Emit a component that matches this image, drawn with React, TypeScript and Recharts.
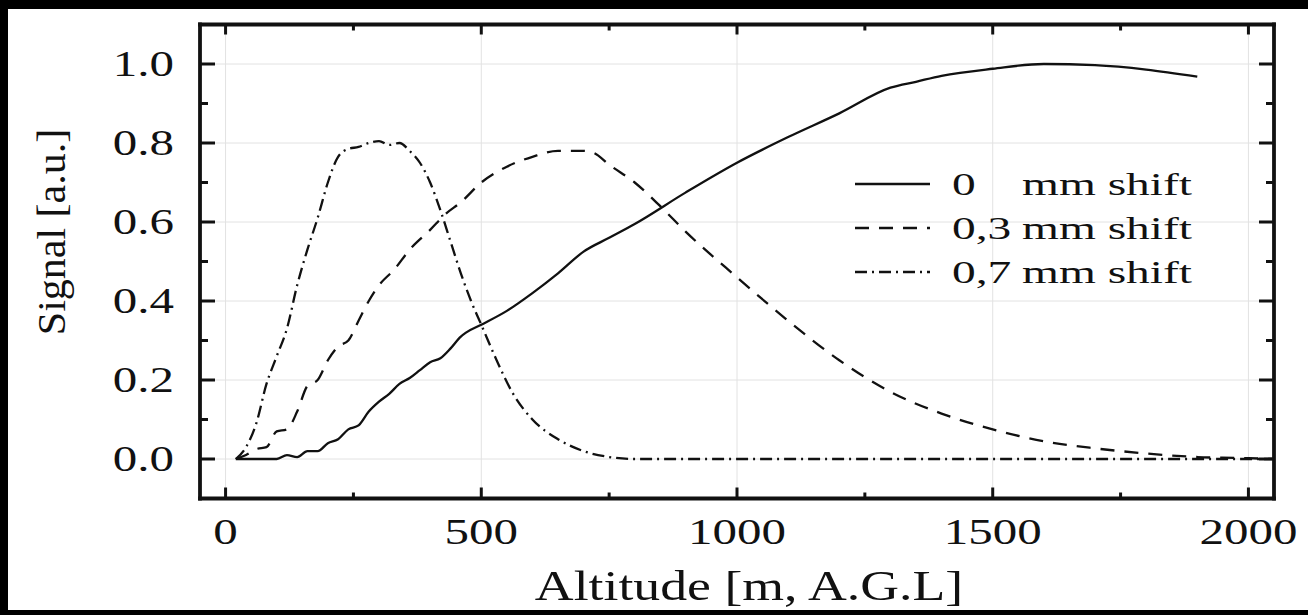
import React from "react";
import { LineChart, Line, XAxis, YAxis, CartesianGrid, Legend } from "recharts";

// altitude [m] / signal [a.u.]
const altSolid = [20, 60, 100, 120, 140, 160, 180, 200, 220, 240, 260, 280, 300, 320, 340, 360, 380, 400, 420, 440, 460, 470, 500, 550, 600, 650, 700, 750, 800, 900, 1000, 1100, 1200, 1300, 1350, 1400, 1500, 1600, 1700, 1800, 1900];
const sigSolid = [0, 0, 0, 0.01, 0.005, 0.02, 0.02, 0.04, 0.05, 0.075, 0.085, 0.12, 0.145, 0.165, 0.19, 0.205, 0.225, 0.245, 0.255, 0.28, 0.31, 0.32, 0.34, 0.375, 0.42, 0.47, 0.525, 0.56, 0.595, 0.675, 0.75, 0.815, 0.875, 0.94, 0.955, 0.97, 0.988, 1.0, 0.997, 0.986, 0.968];

const altDashed = [20, 40, 60, 80, 100, 120, 140, 160, 180, 200, 220, 240, 260, 280, 300, 330, 360, 400, 430, 460, 500, 550, 600, 650, 700, 720, 750, 800, 850, 900, 1000, 1100, 1200, 1300, 1400, 1500, 1600, 1700, 1800, 1900, 2000, 2050];
const sigDashed = [0, 0.01, 0.025, 0.03, 0.07, 0.075, 0.12, 0.185, 0.2, 0.25, 0.285, 0.3, 0.35, 0.4, 0.44, 0.48, 0.53, 0.58, 0.62, 0.65, 0.7, 0.74, 0.765, 0.78, 0.78, 0.775, 0.745, 0.7, 0.64, 0.575, 0.46, 0.35, 0.25, 0.17, 0.115, 0.075, 0.045, 0.027, 0.014, 0.005, 0.002, 0];

const altDashDot = [20, 40, 60, 80, 100, 120, 140, 160, 180, 200, 220, 240, 260, 280, 300, 320, 340, 360, 380, 400, 420, 440, 460, 480, 500, 530, 560, 600, 650, 700, 750, 800, 1000, 1200, 1400, 1600, 1800, 2000, 2050];
const sigDashDot = [0, 0.03, 0.09, 0.19, 0.26, 0.33, 0.44, 0.53, 0.61, 0.7, 0.765, 0.785, 0.79, 0.8, 0.805, 0.795, 0.8, 0.78, 0.75, 0.7, 0.63, 0.55, 0.47, 0.4, 0.34, 0.25, 0.17, 0.1, 0.05, 0.02, 0.005, 0, 0, 0, 0, 0, 0, 0, 0];

const xTicks = [0, 250, 500, 750, 1000, 1250, 1500, 1750, 2000];
const xGrid = [0, 500, 1000, 1500, 2000];
const yTicks = [0, 0.1, 0.2, 0.3, 0.4, 0.5, 0.6, 0.7, 0.8, 0.9, 1.0];
const yGrid = [0, 0.2, 0.4, 0.6, 0.8, 1.0];

const legendNums = ["0", "0,3", "0,7"];
const legendUnit = "mm shift";

const FONT = "'Liberation Serif', 'Times New Roman', serif";
const INK = "#111";

const toRows = (xs: number[], ys: number[]) => xs.map((alt, i) => ({ alt, v: ys[i] }));
const solidData = toRows(altSolid, sigSolid);
const dashedData = toRows(altDashed, sigDashed);
const dashDotData = toRows(altDashDot, sigDashDot);

const DASHES = ["", "14 10", "12 5 2 5"];

const isMajorX = (v: number) => v % 500 === 0;
const isMajorY = (v: number) => Math.round(v * 10) % 2 === 0;

function BottomTick({ x, y, payload }: any) {
    const major = isMajorX(payload.value);
    return (
        <g>
            <line x1={x} x2={x} y1={y} y2={y - (major ? 11 : 6)} stroke={INK} strokeWidth={3} />
            {major && (
                <text transform={`translate(${x},${y + 33}) scale(1.36,1)`} textAnchor="middle" dominantBaseline="central"
                    fontFamily={FONT} fontSize={36} fill={INK}>
                    {payload.value}
                </text>
            )}
        </g>
    );
}

function TopTick({ x, y, payload }: any) {
    const major = isMajorX(payload.value);
    return <line x1={x} x2={x} y1={y} y2={y + (major ? 10 : 6)} stroke={INK} strokeWidth={3} />;
}

function LeftTick({ x, y, payload }: any) {
    const major = isMajorY(payload.value);
    return (
        <g>
            <line x1={x} x2={x + (major ? 15 : 8)} y1={y} y2={y} stroke={INK} strokeWidth={3} />
            {major && (
                <text transform={`translate(${x - 26},${y}) scale(1.36,1)`} textAnchor="end" dominantBaseline="central"
                    fontFamily={FONT} fontSize={36} fill={INK}>
                    {payload.value.toFixed(1)}
                </text>
            )}
        </g>
    );
}

function RightTick({ x, y, payload }: any) {
    const major = isMajorY(payload.value);
    return <line x1={x} x2={x - (major ? 15 : 8)} y1={y} y2={y} stroke={INK} strokeWidth={3} />;
}

function LegendBox() {
    return (
        <svg width={360} height={130}>
            {legendNums.map((num, i) => {
                const cy = 24 + i * 44;
                return (
                    <g key={num}>
                        <line x1={15} x2={90} y1={cy} y2={cy} stroke={INK} strokeWidth={2.3} strokeDasharray={DASHES[i] || undefined} />
                        <text transform={`translate(112,${cy}) scale(1.46,1)`} dominantBaseline="central" fontFamily={FONT} fontSize={32.5} fill={INK}>
                            {num}
                        </text>
                        <text transform={`translate(182,${cy}) scale(1.46,1)`} dominantBaseline="central" fontFamily={FONT} fontSize={32.5} fill={INK}>
                            {legendUnit}
                        </text>
                    </g>
                );
            })}
        </svg>
    );
}

const frame = { stroke: INK, strokeWidth: 3.8, strokeLinecap: "square" as const };

export default function App() {
    return (
        <div style={{ position: "absolute", left: 0, top: 0, width: 1308, height: 615, background: "#000" }}>
            <div style={{ position: "absolute", left: 8, top: 9, width: 1300, height: 601, background: "#fff" }} />
            <div style={{ position: "absolute", left: 0, top: 0 }}>
                <LineChart width={1308} height={615} margin={{ top: 23.5, right: 33, bottom: 115.5, left: 199 }}>
                    <CartesianGrid stroke="#e2e2e2" strokeWidth={1} horizontalValues={yGrid} verticalValues={xGrid} />
                    <XAxis dataKey="alt" type="number" domain={[-50, 2050]} ticks={xTicks} interval={0} allowDataOverflow
                        height={1} tickSize={0} tickMargin={0} tickLine={false} axisLine={frame} tick={<BottomTick />} />
                    <XAxis xAxisId="top" orientation="top" dataKey="alt" type="number" domain={[-50, 2050]} ticks={xTicks} interval={0} allowDataOverflow
                        height={1} tickSize={0} tickMargin={0} tickLine={false} axisLine={frame} tick={<TopTick />} />
                    <YAxis type="number" domain={[-0.1, 1.1]} ticks={yTicks} interval={0} allowDataOverflow
                        width={1} tickSize={0} tickMargin={0} tickLine={false} axisLine={frame} tick={<LeftTick />} />
                    <YAxis yAxisId="right" orientation="right" type="number" domain={[-0.1, 1.1]} ticks={yTicks} interval={0} allowDataOverflow
                        width={1} tickSize={0} tickMargin={0} tickLine={false} axisLine={frame} tick={<RightTick />} />
                    <Line data={solidData} dataKey="v" name="0 mm shift" type="monotone" stroke={INK} strokeWidth={2.3}
                        dot={false} activeDot={false} isAnimationActive={false} />
                    <Line data={dashedData} dataKey="v" name="0,3 mm shift" type="monotone" stroke={INK} strokeWidth={2.3}
                        strokeDasharray={DASHES[1]} dot={false} activeDot={false} isAnimationActive={false} />
                    <Line data={dashDotData} dataKey="v" name="0,7 mm shift" type="monotone" stroke={INK} strokeWidth={2.3}
                        strokeDasharray={DASHES[2]} dot={false} activeDot={false} isAnimationActive={false} />
                    <Legend layout="horizontal" verticalAlign="middle" align="center" content={() => <LegendBox />}
                        wrapperStyle={{ left: 840, top: 160, width: 360, height: 130 }} />
                    <text transform="translate(65,232) rotate(-90) scale(1.05,1)" textAnchor="middle" fontFamily={FONT} fontSize={40} fill={INK}>
                        Signal [a.u.]
                    </text>
                    <text transform="translate(749,600) scale(1.25,1)" textAnchor="middle" fontFamily={FONT} fontSize={43} fill={INK}>
                        Altitude [m, A.G.L]
                    </text>
                </LineChart>
            </div>
        </div>
    );
}
